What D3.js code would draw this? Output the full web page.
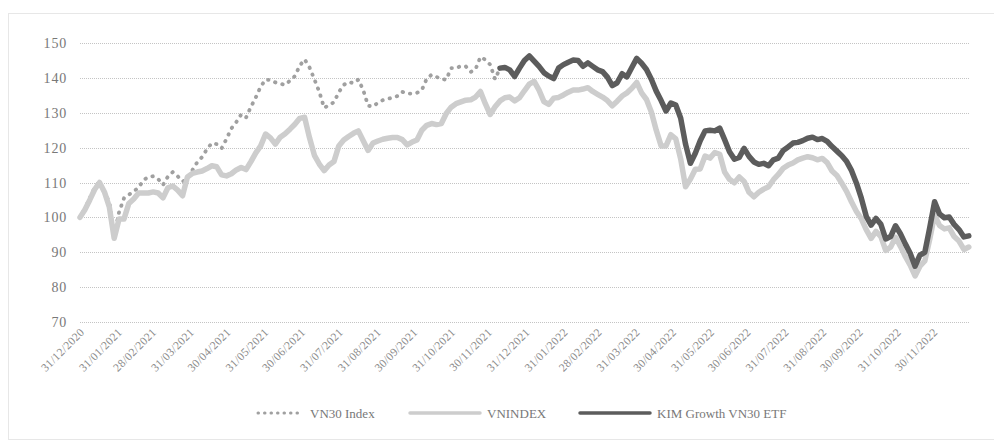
<style>
  body {
    margin: 0;
    background: white;
  }

  svg {
    display: block;
  }

  text {
    font-family: "Liberation Serif", "DejaVu Serif", serif;
    fill: #787878;
  }

  .grid line {
    stroke: #c4c4c4;
    stroke-dasharray: 1 1;
  }
</style>

<body>
  <script src="https://cdn.jsdelivr.net/npm/d3@7"></script>
  <script>
    // values read every 4 calendar days starting 31/12/2020
    const startDate = "31/12/2020";
    const endDate = "30/12/2022";
    const stepDays = 4;

    const vnindex = [
      100, 102.2, 105, 108, 110, 107.3, 103, 94, 99.5, 99.5,
      104, 105.3, 107, 107, 107, 107.3, 107, 105.6, 108.5, 109,
      107.8, 106.2, 111.6, 112.6, 113, 113.3, 114, 114.8, 114.5, 112.2,
      111.9, 112.5, 113.6, 114.3, 113.7, 116, 118.5, 120.5, 123.9, 122.8,
      121, 123, 124, 125.3, 126.7, 128.4, 128.7, 122.8, 117.8, 115.3,
      113.4, 115, 116, 120.5, 122.2, 123.2, 124.1, 124.8, 122, 119.2,
      121.3, 121.9, 122.4, 122.7, 122.9, 122.9, 122.3, 120.8, 121.6, 122.2,
      125, 126.4, 126.9, 126.6, 126.9, 129.8, 131.6, 132.6, 133.1, 133.6,
      133.7, 134.5, 136.1, 132.6, 129.5, 131.7, 133.4, 134.3, 134.5, 133.4,
      134.3, 136.3, 138.2, 139, 136.5, 133.2, 132.4, 134.2, 134.4, 135.1,
      135.9, 136.5, 136.5, 136.8, 137.2, 136.1, 135.3, 134.5, 133.5, 132,
      133.3, 134.8, 135.7, 137, 138.7, 135.7, 133.8, 130.2, 125, 120.5,
      120.5, 123.7, 122.5, 116.8, 108.8, 111, 113.8, 113.9, 117.6, 117,
      118.6, 118.1, 113, 110.9, 109.9, 111.6, 110.3, 107.2, 105.9, 107.2,
      108.1, 108.8, 110.8, 112.3, 114.1, 115, 115.6, 116.5, 117, 117.4,
      117.1, 116.5, 116.9, 115.7, 113.3, 112, 109.8, 107.4, 104.4, 101.7,
      99.6, 96.5, 94, 96, 94.5, 90.5, 91.5, 94.3, 91.7, 88.8,
      86.3, 83.2, 86, 87.5, 93.7, 100.7, 97.7, 96.7, 97, 94.5,
      93.2, 90.8, 91.5
    ];

    const vn30 = [
      100, 102.5, 105.5, 108.5, 110.4, 107, 104.5, 95, 101.5, 105.5,
      106.5, 107.5, 108.5, 110.7, 111.6, 111.8, 111, 109.3, 111.7, 113,
      111.8, 110.3, 111, 113.5, 115.8, 117.3, 119.6, 121.3, 121, 119.8,
      122.5, 125.5, 127.3, 129.5, 128.6, 131.7, 134.4, 137.5, 139.5, 139.4,
      138.7, 138.3, 138, 139.2, 140.5, 143.5, 145.3, 143, 139.6, 136,
      131.4, 132.2, 133, 135.9, 138, 138.8, 138.5, 139.5, 136.5, 132,
      131.8, 132.9, 133.6, 134, 134.3, 134.8, 136, 135.5, 135.5, 135.7,
      136.5, 139.8, 140.9, 140.3, 139.6, 139.5, 142.8, 142.8, 143.4, 143.3,
      141.7, 142.5, 146, 145.2, 143.8, 139.6, 142.8
    ];

    // the ETF series begins at the 87th step (start of December 2021)
    const kimStartIndex = 86;
    const kim = [
      142.8, 143, 142.3, 140.4, 142.8, 145, 146.3, 144.8, 143.3, 141.5,
      140.5, 139.8, 142.8, 143.8, 144.5, 145.1, 145, 143.3, 144.3, 143.3,
      142.3, 141.8, 140.2, 137.8, 138.6, 141.2, 140.3, 143, 145.6, 144.2,
      142.4, 139.6, 136.2, 133.5, 130.5, 132.8, 132.2, 128.5, 121, 115.5,
      118.4, 122, 124.8, 125, 124.8, 125.6, 122.3, 118.8, 116.7, 117.2,
      119.8, 117.5, 115.9, 115.2, 115.5, 114.8, 116.5, 117, 119.2, 120.2,
      121.3, 121.5, 122, 122.7, 123, 122.3, 122.6, 121.8, 120.3, 119,
      117.7, 116, 113.4, 109.8, 105.5, 100.3, 97.8, 99.7, 98, 93.8,
      94.5, 97.6, 95.3, 92.4, 89.7, 86, 89.2, 90, 97, 104.5,
      101, 99.9, 100.1, 98, 96.5, 94.4, 94.7
    ];

    const yTicks = [70, 80, 90, 100, 110, 120, 130, 140, 150];
    const xTickLabels = [
      "31/12/2020", "31/01/2021", "28/02/2021", "31/03/2021", "30/04/2021", "31/05/2021",
      "30/06/2021", "31/07/2021", "31/08/2021", "30/09/2021", "31/10/2021", "30/11/2021",
      "31/12/2021", "31/01/2022", "28/02/2022", "31/03/2022", "30/04/2022", "31/05/2022",
      "30/06/2022", "31/07/2022", "31/08/2022", "30/09/2022", "31/10/2022", "30/11/2022"
    ];
    const seriesNames = ["VN30 Index", "VNINDEX", "KIM Growth VN30 ETF"];

    const w = 994, h = 441;
    const parse = d3.timeParse("%d/%m/%Y");
    const start = parse(startDate);
    const dayAt = (i) => d3.timeDay.offset(start, i * stepDays);

    const x = d3.scaleTime().domain([start, parse(endDate)]).range([80, 970]);
    const y = d3.scaleLinear().domain([70, 150]).range([322, 43]);

    const svg = d3.select("body").append("svg")
      .attr("width", w)
      .attr("height", h);

    // outer frame
    svg.append("rect")
      .attr("x", 8.5).attr("y", 13.5)
      .attr("width", 1000).attr("height", 426)
      .attr("fill", "none")
      .attr("stroke", "#cfcfcf")
      .attr("stroke-dasharray", "1 1");

    const grid = svg.append("g").attr("class", "grid");
    grid.selectAll("line")
      .data(yTicks)
      .enter()
      .append("line")
      .attr("x1", x.range()[0])
      .attr("x2", x.range()[1])
      .attr("y1", d => Math.round(y(d)) + 0.5)
      .attr("y2", d => Math.round(y(d)) + 0.5);

    svg.append("g").selectAll("text")
      .data(yTicks)
      .enter()
      .append("text")
      .attr("x", 67)
      .attr("y", d => y(d) + 5)
      .attr("text-anchor", "end")
      .style("font-size", "14px")
      .style("letter-spacing", "0.8px")
      .text(d => d);

    svg.append("g").selectAll("text")
      .data(xTickLabels)
      .enter()
      .append("text")
      .attr("text-anchor", "end")
      .attr("transform", d => "translate(" + (x(parse(d)) + 5) + ",333) rotate(-45)")
      .style("font-size", "11.5px")
      .style("letter-spacing", "0.3px")
      .style("fill", "#8a8a8a")
      .text(d => d);

    const line = d3.line()
      .x(d => x(d[0]))
      .y(d => y(d[1]));

    const vn30Pts = vn30.map((v, i) => [dayAt(i), v]);
    const vnindexPts = vnindex.map((v, i) => [dayAt(i), v]);
    const kimPts = kim.map((v, i) => [dayAt(i + kimStartIndex), v]);

    const styles = [
      { color: "#a0a0a0", width: 3.8, dash: "0.5 7" },
      { color: "#cdcdcd", width: 5.5, dash: null },
      { color: "#5c5c5c", width: 5.5, dash: null }
    ];

    [vn30Pts, vnindexPts, kimPts].forEach((pts, k) => {
      svg.append("path")
        .datum(pts)
        .attr("fill", "none")
        .attr("stroke", styles[k].color)
        .attr("stroke-width", styles[k].width)
        .attr("stroke-linejoin", "round")
        .attr("stroke-linecap", "round")
        .attr("stroke-dasharray", styles[k].dash)
        .attr("d", line);
    });

    // legend
    const legendX = [258, 410, 580];
    const legend = svg.append("g");
    seriesNames.forEach((name, k) => {
      legend.append("line")
        .attr("x1", legendX[k]).attr("x2", legendX[k] + 44 + (k ? 26 : 0))
        .attr("y1", 413).attr("y2", 413)
        .attr("stroke", styles[k].color)
        .attr("stroke-width", k ? 3.5 : 3)
        .attr("stroke-linecap", "round")
        .attr("stroke-dasharray", k ? null : "0.5 6");
      legend.append("text")
        .attr("x", k ? legendX[k] + 77 : legendX[k] + 52)
        .attr("y", 417.5)
        .style("font-size", "13px")
        .text(name);
    });
  </script>
</body>
